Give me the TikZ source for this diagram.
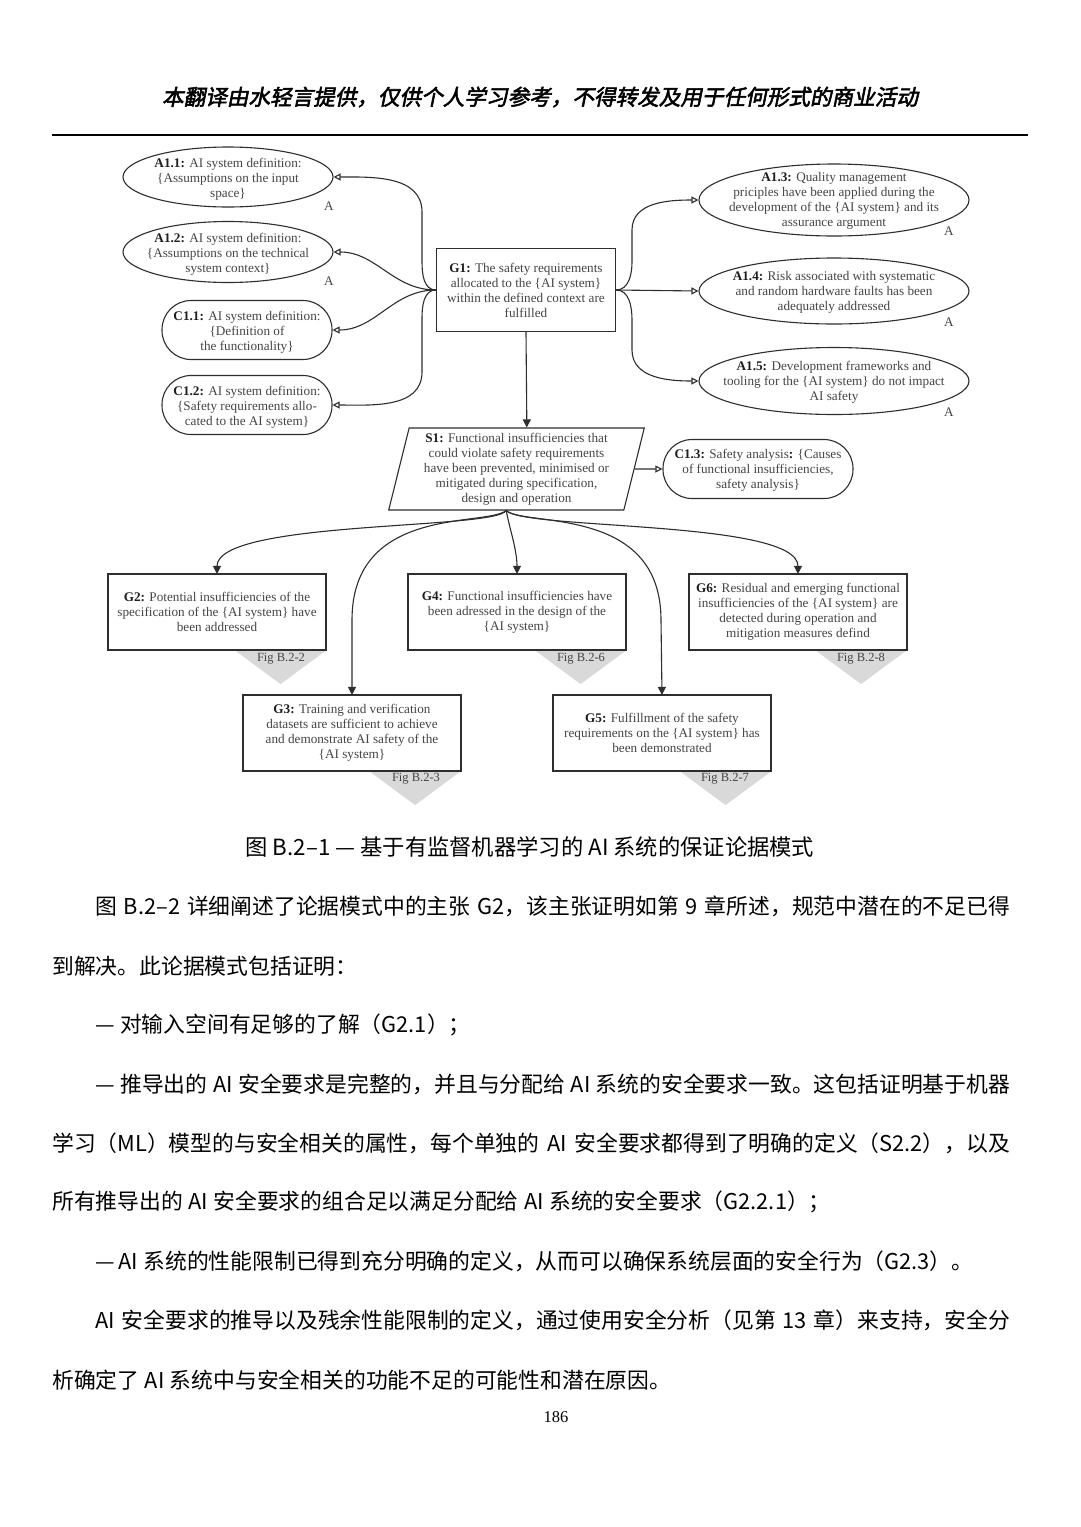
\documentclass[tikz,border=0pt]{standalone}
\usepackage{fontspec}
\setmainfont{Liberation Serif}
\newfontfamily\cjk{Noto Sans CJK SC}
\newfontfamily\cjkhead[FakeSlant=0.2,FakeBold=2.5]{Noto Sans CJK SC}
\usetikzlibrary{arrows.meta,shapes.geometric,calc}
\XeTeXlinebreaklocale "zh"
\XeTeXlinebreakskip=0pt plus 6pt minus 1pt
\definecolor{linec}{HTML}{2E2E2E}
\definecolor{txtc}{HTML}{454545}
\definecolor{lblc}{HTML}{1E1E1E}
\definecolor{trig}{HTML}{D9D9D9}
\newcommand\lb[1]{{\bfseries\color{lblc}#1}}
\newcommand\dfont{\fontsize{13.2}{15}\selectfont}
\newcommand\bodyf{\cjk\fontsize{21.8}{26}\selectfont\spaceskip=0.25em plus 1pt minus 1pt\relax}
\begin{document}
\begin{tikzpicture}[x=1pt,y=-1pt,
  shp/.style={draw=linec, line width=1.1pt, inner sep=0pt},
  ell/.style={shp, ellipse},
  stad/.style={shp, rectangle, rounded corners=29pt},
  goal/.style={shp, rectangle, align=center, font=\dfont, text=txtc},
  dtext/.style={align=center, font=\dfont, text=txtc, inner sep=0pt},
  alabel/.style={font=\dfont, text=txtc, inner sep=0pt},
  figlbl/.style={font=\fontsize{12.5}{14}\selectfont, text=txtc, inner sep=0pt},
  conn/.style={draw=linec, line width=1.1pt},
  oarr/.style={conn, -{Triangle[open,length=7pt,width=7pt]}},
  farr/.style={conn, -{Triangle[length=8pt,width=8pt]}},
  bodyline/.style={anchor=west, font=\bodyf, text=black, inner sep=0pt}
]
\useasboundingbox[fill=white] (0,0) rectangle (1080,1527);

% header
\node[font=\cjkhead\fontsize{21.6}{24}\selectfont] (hdr) at (540,97) {本翻译由水轻言提供，仅供个人学习参考，不得转发及用于任何形式的商业活动};
\draw[line width=1.5pt] (52,135) -- (1028,135);

% left context / assumption nodes
\node[ell, minimum width=210pt, minimum height=60pt] (A11) at (228,177) {};
\node[dtext] (A11t) at ($(A11)+(0,2)$) {\lb{A1.1:} AI system definition:\\\{Assumptions on the input\\space\}};
\node[alabel] (A11a) at (329,206) {A};
\node[ell, minimum width=210pt, minimum height=61pt] (A12) at (228,252) {};
\node[dtext] (A12t) at ($(A12)+(0,2)$) {\lb{A1.2:} AI system definition:\\\{Assumptions on the technical\\system context\}};
\node[alabel] (A12a) at (329,281) {A};
\node[stad, minimum width=170pt, minimum height=59pt] (C11) at (247,330) {};
\node[dtext] (C11t) at ($(C11)+(0,2)$) {\lb{C1.1:} AI system definition:\\\{Definition of\\the functionality\}};
\node[stad, minimum width=170pt, minimum height=59pt] (C12) at (247,405) {};
\node[dtext] (C12t) at ($(C12)+(0,2)$) {\lb{C1.2:} AI system definition:\\\{Safety requirements allo-\\cated to the AI system\}};

% G1
\node[goal, minimum width=179pt, minimum height=83pt] (G1) at (526,290) {\lb{G1:} The safety requirements\\allocated to the \{AI system\}\\within the defined context are\\fulfilled};

% right assumptions
\node[ell, minimum width=270pt, minimum height=72pt] (A13) at (834,200) {};
\node[dtext] (A13t) at ($(A13)+(0,1)$) {\lb{A1.3:} Quality management\\priciples have been applied during the\\development of the \{AI system\} and its\\assurance argument};
\node[alabel] (A13a) at (949,231) {A};
\node[ell, minimum width=270pt, minimum height=66pt] (A14) at (834,291) {};
\node[dtext] (A14t) at ($(A14)+(0,1)$) {\lb{A1.4:} Risk associated with systematic\\and random hardware faults has been\\adequately addressed};
\node[alabel] (A14a) at (949,322) {A};
\node[ell, minimum width=270pt, minimum height=67pt] (A15) at (834,381) {};
\node[dtext] (A15t) at ($(A15)+(0,1)$) {\lb{A1.5:} Development frameworks and\\tooling for the \{AI system\} do not impact\\AI safety};
\node[alabel] (A15a) at (949,412) {A};

% S1 and C1.3
\node[shp, trapezium, trapezium left angle=76, trapezium right angle=104, minimum height=82pt, inner xsep=2pt, align=center, font=\dfont, text=txtc] (S1) at (516.5,469) {\lb{S1:} Functional insufficiencies that\\could violate safety requirements\\have been prevented, minimised or\\mitigated during specification,\\design and operation};
\coordinate (S1top) at ($(S1.top left corner)!0.5!(S1.top right corner)$);
\coordinate (S1bot) at ($(S1.bottom left corner)!0.5!(S1.bottom right corner)$);
\node[stad, minimum width=190pt, minimum height=59pt] (C13) at (758,469) {};
\node[dtext] (C13t) at ($(C13)+(0,1)$) {\lb{C1.3:} Safety analysis\lb{:} \{Causes\\of functional insufficiencies,\\safety analysis\}};

% sub goals
\node[goal, minimum width=218pt, minimum height=75pt] (G2) at (217,612) {\lb{G2:} Potential insufficiencies of the\\specification of the \{AI system\} have\\been addressed};
\node[goal, minimum width=218pt, minimum height=75pt] (G4) at (517,612) {\lb{G4:} Functional insufficiencies have\\been adressed in the design of the\\\{AI system\}};
\node[goal, minimum width=217pt, minimum height=75pt] (G6) at (798,612) {\lb{G6:} Residual and emerging functional\\insufficiencies of the \{AI system\} are\\detected during operation and\\mitigation measures defind};
\node[goal, minimum width=217pt, minimum height=75pt] (G3) at (352,733) {\lb{G3:} Training and verification\\datasets are sufficient to achieve\\and demonstrate AI safety of the\\\{AI system\}};
\node[goal, minimum width=218pt, minimum height=75pt] (G5) at (662,733) {\lb{G5:} Fulfillment of the safety\\requirements on the \{AI system\} has\\been demonstrated};

% away-goal triangles
\fill[trig] ($(G2.south east)+(-92,0)$) -- (G2.south east) -- ($(G2.south east)+(-46,34)$) -- cycle;
\fill[trig] ($(G4.south east)+(-92,0)$) -- (G4.south east) -- ($(G4.south east)+(-46,34)$) -- cycle;
\fill[trig] ($(G6.south east)+(-92,0)$) -- (G6.south east) -- ($(G6.south east)+(-46,34)$) -- cycle;
\fill[trig] ($(G3.south east)+(-92,0)$) -- (G3.south east) -- ($(G3.south east)+(-46,34)$) -- cycle;
\fill[trig] ($(G5.south east)+(-92,0)$) -- (G5.south east) -- ($(G5.south east)+(-46,34)$) -- cycle;
\node[figlbl] (F2) at (281,659) {Fig B.2-2};
\node[figlbl] (F6) at (581,659) {Fig B.2-6};
\node[figlbl] (F8) at (861,659) {Fig B.2-8};
\node[figlbl] (F3) at (416,779) {Fig B.2-3};
\node[figlbl] (F7) at (725,779) {Fig B.2-7};
% redraw goal borders over triangles
\draw[draw=linec, line width=1.1pt] (G2.north west) rectangle (G2.south east);
\draw[draw=linec, line width=1.1pt] (G4.north west) rectangle (G4.south east);
\draw[draw=linec, line width=1.1pt] (G6.north west) rectangle (G6.south east);
\draw[draw=linec, line width=1.1pt] (G3.north west) rectangle (G3.south east);
\draw[draw=linec, line width=1.1pt] (G5.north west) rectangle (G5.south east);

% connectors G1 -> left
\draw[oarr] (G1.west) to[out=180,in=-90] (422,262) -- (422,212) to[out=90,in=0] (A11.east);
\draw[oarr] (G1.west) to[out=180,in=0] (A12.east);
\draw[oarr] (G1.west) to[out=180,in=0] (C11.east);
\draw[oarr] (G1.west) to[out=180,in=90] (422,318) -- (422,372) to[out=-90,in=0] (C12.east);
% connectors G1 -> right
\draw[oarr] (G1.east) to[out=0,in=-90] (632,262) -- (632,230) to[out=90,in=180] (A13.west);
\draw[oarr] (G1.east) -- (A14.west);
\draw[oarr] (G1.east) to[out=0,in=90] (632,320) -- (632,350) to[out=-90,in=180] (A15.west);
% G1 -> S1
\draw[farr] (G1.south) -- (S1top);
% S1 -> C1.3
\draw[oarr] (S1) -- (C13);
% S1 -> sub goals
\draw[farr] (S1bot) .. controls (495,530) and (217,520) .. (G2.north);
\draw[farr] (S1bot) .. controls (510,530) and (517,550) .. (G4.north);
\draw[farr] (S1bot) .. controls (525,530) and (798,520) .. (G6.north);
\draw[farr] (S1bot) .. controls (485,527) and (352,505) .. (352,620) -- (G3.north);
\draw[farr] (S1bot) .. controls (525,527) and (661,505) .. (661,620) -- (G5.north);

% caption
\node[font=\cjk\fontsize{22.3}{24}\selectfont] (cap) at (530,847) {图 B.2–1 — 基于有监督机器学习的 AI 系统的保证论据模式};

% body text
\node[bodyline] (L1) at (95,906) {\hbox to 915pt{图 B.2–2 详细阐述了论据模式中的主张 G2，该主张证明如第 9 章所述，规范中潜在的不足已得}};
\node[bodyline] (L2) at (52,966) {到解决。此论据模式包括证明：};
\node[bodyline] (L3) at (95,1025) {— 对输入空间有足够的了解（G2.1）；};
\node[bodyline] (L4) at (95,1084) {\hbox to 915pt{— 推导出的 AI 安全要求是完整的，并且与分配给 AI 系统的安全要求一致。这包括证明基于机器}};
\node[bodyline] (L5) at (52,1143) {\hbox to 958pt{学习（ML）模型的与安全相关的属性，每个单独的 AI 安全要求都得到了明确的定义（S2.2），以及}};
\node[bodyline] (L6) at (52,1202) {所有推导出的 AI 安全要求的组合足以满足分配给 AI 系统的安全要求（G2.2.1）；};
\node[bodyline] (L7) at (95,1261) {—\,AI 系统的性能限制已得到充分明确的定义，从而可以确保系统层面的安全行为（G2.3）。};
\node[bodyline] (L8) at (95,1320) {\hbox to 915pt{AI 安全要求的推导以及残余性能限制的定义，通过使用安全分析（见第 13 章）来支持，安全分}};
\node[bodyline] (L9) at (52,1380) {析确定了 AI 系统中与安全相关的功能不足的可能性和潜在原因。};
\node[font=\fontsize{16.5}{18}\selectfont] (pg) at (556,1417) {186};
\end{tikzpicture}
\end{document}
